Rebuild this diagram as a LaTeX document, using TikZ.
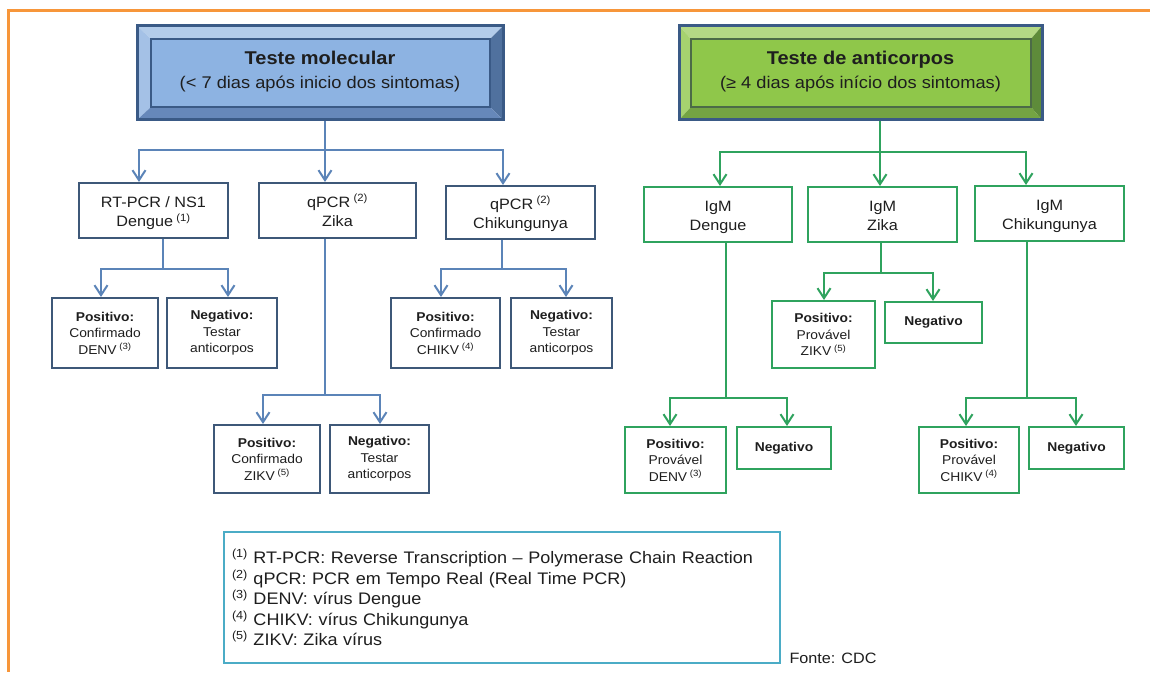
\documentclass[tikz,border=0pt]{standalone}
\usepackage{fontspec}
\setmainfont{Liberation Sans}[FakeStretch=1.08]
\usetikzlibrary{arrows.meta}
\definecolor{orng}{HTML}{F7963A}
\definecolor{bline}{HTML}{5B84B8}
\definecolor{bbord}{HTML}{3E5878}
\definecolor{gline}{HTML}{2FA35E}
\definecolor{lgbord}{HTML}{4BACC6}
\definecolor{txt}{HTML}{1E1E1E}
\definecolor{bTop}{HTML}{B3CCEA}
\definecolor{bLeft}{HTML}{A4C1E6}
\definecolor{bIn}{HTML}{8DB3E2}
\definecolor{bRight}{HTML}{50719E}
\definecolor{bBot}{HTML}{6688BA}
\definecolor{hbord}{HTML}{3A5A86}
\definecolor{gTop}{HTML}{B4D985}
\definecolor{gLeft}{HTML}{A6D26F}
\definecolor{gIn}{HTML}{8FC74A}
\definecolor{gRight}{HTML}{5E8B3A}
\definecolor{gBot}{HTML}{74A443}
\definecolor{ginbord}{HTML}{4C6B47}
\tikzset{
  bl/.style={draw=bline, line width=2pt},
  barr/.style={bl, -{Straight Barb[length=10pt,width=13pt]}},
  gl/.style={draw=gline, line width=2pt},
  garr/.style={gl, -{Straight Barb[length=10pt,width=13pt]}},
  hdr/.style={inner sep=0pt, align=center, text=txt, line width=3pt,
    font=\fontsize{16.9}{24}\selectfont},
  lvone/.style={inner sep=0pt, align=center, text=txt, line width=2pt,
    font=\fontsize{15}{19.5}\selectfont, text height=32pt, text depth=0pt},
  lvtwo/.style={inner sep=0pt, align=center, text=txt, line width=2pt,
    font=\fontsize{12.8}{16.5}\selectfont},
  bbx/.style={draw=bbord},
  gbx/.style={draw=gline},
}
\begin{document}
\begin{tikzpicture}[x=1pt,y=-1pt]
\useasboundingbox (0,0) rectangle (1150,672);
\fill[white] (0,0) rectangle (1150,672);
\draw[orng, line width=3pt] (1150,10) -- (8,10) -- (8,672);

% ---------- blue header bevel ----------
\fill[bTop] (137,26) -- (503,26) -- (490,39) -- (151,39) -- cycle;
\fill[bLeft] (137,26) -- (151,39) -- (151,107) -- (137,120) -- cycle;
\fill[bRight] (503,26) -- (503,120) -- (490,107) -- (490,39) -- cycle;
\fill[bBot] (137,120) -- (503,120) -- (490,107) -- (151,107) -- cycle;
\draw[hbord, line width=2pt, fill=bIn] (151,39) rectangle (490,107);
\node[hdr, draw=hbord, minimum width=366pt, minimum height=94pt] (hb) at (320,72)
  {{\bfseries\fontsize{18.5}{24}\selectfont Teste molecular}\\(< 7 dias após inicio dos sintomas)};

% ---------- green header bevel ----------
\fill[gTop] (679,26) -- (1042,26) -- (1031,39) -- (691,39) -- cycle;
\fill[gLeft] (679,26) -- (691,39) -- (691,107) -- (679,120) -- cycle;
\fill[gRight] (1042,26) -- (1042,120) -- (1031,107) -- (1031,39) -- cycle;
\fill[gBot] (679,120) -- (1042,120) -- (1031,107) -- (691,107) -- cycle;
\draw[ginbord, line width=2pt, fill=gIn] (691,39) rectangle (1031,107);
\node[hdr, draw=hbord, minimum width=363pt, minimum height=94pt] (gh) at (860.5,72)
  {{\bfseries\fontsize{18.5}{24}\selectfont Teste de anticorpos}\\(≥ 4 dias após início dos sintomas)};

% ---------- blue level 1 ----------
\node[lvone, bbx, minimum width=149pt, minimum height=55pt] (b1) at (153.5,210.5)
  {RT-PCR / NS1\\Dengue\textsuperscript{ (1)}};
\node[lvone, bbx, minimum width=157pt, minimum height=55pt] (b2) at (337.5,210.5)
  {qPCR\textsuperscript{ (2)}\\Zika};
\node[lvone, bbx, minimum width=149pt, minimum height=53pt] (b3) at (520.5,212.5)
  {qPCR\textsuperscript{ (2)}\\Chikungunya};

% ---------- blue level 2 ----------
\node[lvtwo, bbx, minimum width=106pt, minimum height=70pt] (b1p) at (105,333)
  {\textbf{Positivo:}\\Confirmado\\DENV\textsuperscript{ (3)}};
\node[lvtwo, bbx, minimum width=110pt, minimum height=70pt] (b1n) at (222,333)
  {\textbf{Negativo:}\\Testar\\anticorpos};
\node[lvtwo, bbx, minimum width=106pt, minimum height=68pt] (b2p) at (267,459)
  {\textbf{Positivo:}\\Confirmado\\ZIKV\textsuperscript{ (5)}};
\node[lvtwo, bbx, minimum width=99pt, minimum height=68pt] (b2n) at (379.5,459)
  {\textbf{Negativo:}\\Testar\\anticorpos};
\node[lvtwo, bbx, minimum width=109pt, minimum height=70pt] (b3p) at (445.5,333)
  {\textbf{Positivo:}\\Confirmado\\CHIKV\textsuperscript{ (4)}};
\node[lvtwo, bbx, minimum width=101pt, minimum height=70pt] (b3n) at (561.5,333)
  {\textbf{Negativo:}\\Testar\\anticorpos};

% ---------- green level 1 ----------
\node[lvone, gbx, minimum width=148pt, minimum height=55pt] (g1) at (718,214.5)
  {IgM\\Dengue};
\node[lvone, gbx, minimum width=149pt, minimum height=55pt] (g2) at (882.5,214.5)
  {IgM\\Zika};
\node[lvone, gbx, minimum width=149pt, minimum height=55pt] (g3) at (1049.5,213.5)
  {IgM\\Chikungunya};

% ---------- green level 2 ----------
\node[lvtwo, gbx, minimum width=101pt, minimum height=66pt] (g1p) at (675.5,460)
  {\textbf{Positivo:}\\Provável\\DENV\textsuperscript{ (3)}};
\node[lvtwo, gbx, minimum width=94pt, minimum height=42pt] (g1n) at (784,448)
  {\raisebox{2pt}{\textbf{Negativo}}};
\node[lvtwo, gbx, minimum width=103pt, minimum height=67pt] (g2p) at (823.5,334.5)
  {\textbf{Positivo:}\\Provável\\ZIKV\textsuperscript{ (5)}};
\node[lvtwo, gbx, minimum width=97pt, minimum height=41pt] (g2n) at (933.5,322.5)
  {\raisebox{2pt}{\textbf{Negativo}}};
\node[lvtwo, gbx, minimum width=100pt, minimum height=66pt] (g3p) at (969,460)
  {\textbf{Positivo:}\\Provável\\CHIKV\textsuperscript{ (4)}};
\node[lvtwo, gbx, minimum width=95pt, minimum height=42pt] (g3n) at (1076.5,448)
  {\raisebox{2pt}{\textbf{Negativo}}};

% ---------- junction coordinates ----------
\coordinate (jb) at (325,150);
\coordinate (jb1) at (139,150);
\coordinate (jb3) at (503,150);
\coordinate (k1) at (163,269);
\coordinate (k1a) at (101,269);
\coordinate (k1b) at (228,269);
\coordinate (k2) at (325,395);
\coordinate (k2a) at (263,395);
\coordinate (k2b) at (380,395);
\coordinate (k3) at (502,269);
\coordinate (k3a) at (441,269);
\coordinate (k3b) at (566,269);
\coordinate (jg) at (880,152);
\coordinate (jg1) at (720,152);
\coordinate (jg3) at (1026,152);
\coordinate (m1) at (726,398);
\coordinate (m1a) at (670,398);
\coordinate (m1b) at (787,398);
\coordinate (m2) at (881,273);
\coordinate (m2a) at (824,273);
\coordinate (m2b) at (933,273);
\coordinate (m3) at (1027,398);
\coordinate (m3a) at (966,398);
\coordinate (m3b) at (1076,398);

% ---------- blue connectors ----------
\draw[barr] (hb.south -| jb) -- (jb |- b2.north);
\draw[barr] (jb) -| (jb1 |- b1.north);
\draw[barr] (jb) -| (jb3 |- b3.north);
\draw[barr] (b1.south -| k1) -- (k1) -| (k1a |- b1p.north);
\draw[barr] (k1) -| (k1b |- b1n.north);
\draw[barr] (b2.south -| k2) -- (k2) -| (k2a |- b2p.north);
\draw[barr] (k2) -| (k2b |- b2n.north);
\draw[barr] (b3.south -| k3) -- (k3) -| (k3a |- b3p.north);
\draw[barr] (k3) -| (k3b |- b3n.north);

% ---------- green connectors ----------
\draw[garr] (gh.south -| jg) -- (jg |- g2.north);
\draw[garr] (jg) -| (jg1 |- g1.north);
\draw[garr] (jg) -| (jg3 |- g3.north);
\draw[garr] (g1.south -| m1) -- (m1) -| (m1a |- g1p.north);
\draw[garr] (m1) -| (m1b |- g1n.north);
\draw[garr] (g2.south -| m2) -- (m2) -| (m2a |- g2p.north);
\draw[garr] (m2) -| (m2b |- g2n.north);
\draw[garr] (g3.south -| m3) -- (m3) -| (m3a |- g3p.north);
\draw[garr] (m3) -| (m3b |- g3n.north);

% ---------- legend ----------
\node[draw=lgbord, line width=2pt, inner xsep=8pt, inner ysep=0pt, text width=540pt,
  align=left, minimum height=131pt, text=txt, font=\fontsize{16.7}{20.5}\selectfont]
  (lg) at (502,597.5)
  {\textsuperscript{(1)} RT-PCR: Reverse Transcription – Polymerase Chain Reaction\\
   \textsuperscript{(2)} qPCR: PCR em Tempo Real (Real Time PCR)\\
   \textsuperscript{(3)} DENV: vírus Dengue\\
   \textsuperscript{(4)} CHIKV: vírus Chikungunya\\
   \textsuperscript{(5)} ZIKV: Zika vírus};
\node[text=txt, inner sep=0pt, font=\fontsize{15}{18}\selectfont] (fn) at (833,658) {Fonte: CDC};
\end{tikzpicture}
\end{document}
